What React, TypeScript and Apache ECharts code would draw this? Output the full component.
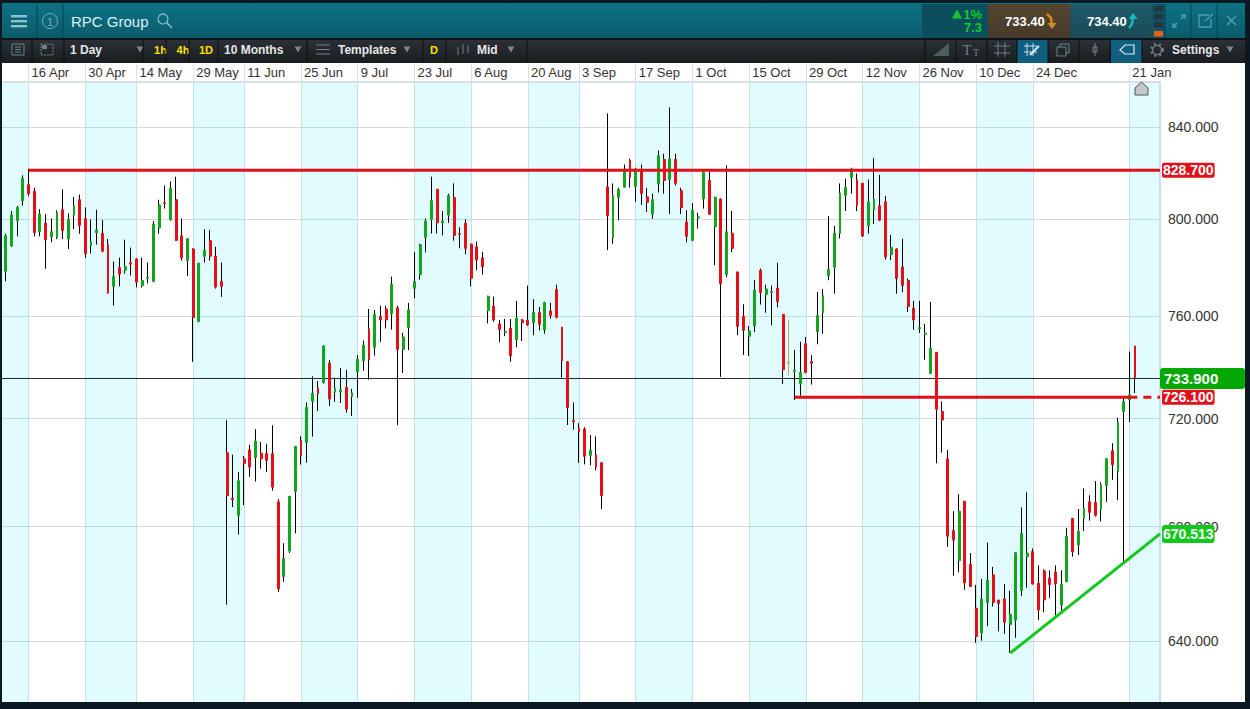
import React, { useEffect, useRef } from "react";
import * as echarts from "echarts";

const FONT = '"Liberation Sans", Arial, sans-serif';

// Ticks of the date axis: position in the candle sequence, and text.
const dateTickIndex = [4, 14, 23, 33, 42, 52, 62, 72, 82, 92, 101, 111, 121, 131, 141, 151, 161, 171, 181, 198];
const dateTickLabels = ["16 Apr", "30 Apr", "14 May", "29 May", "11 Jun", "25 Jun", "9 Jul", "23 Jul", "6 Aug", "20 Aug", "3 Sep", "17 Sep", "1 Oct", "15 Oct", "29 Oct", "12 Nov", "26 Nov", "10 Dec", "24 Dec", "21 Jan"];
const priceTicks = [640, 680, 720, 760, 800, 840];

// open, close, low, high
const ohlc: number[][] = [
  [778.4,793.1,774.3,794],[789,801.9,788.5,803.6],[799.5,805.1,792.9,805.8],[808,817.5,805.9,818.9],[814.9,811,809.9,821.8],
  [812,794.5,792.9,813.5],[794.9,802.3,792.9,804.4],[798.4,791.5,779.4,802.2],[792.7,794.8,790.4,800.4],[792.4,802.9,791.8,803.8],
  [804.1,795.3,791.8,812.8],[791.8,800,787.6,802.6],[801.9,805.8,795.9,809.6],[808.4,797.5,794,810.6],[800.4,785.7,783.8,805.2],
  [789.1,790.7,785.7,800],[794.4,795.6,789.4,804.1],[794.2,786.7,786.2,799.7],[789.4,769.5,769.2,791.8],[772.2,776.2,764.4,782.4],
  [779.9,777.2,772.2,784],[778.8,780.3,777.4,791.5],[781.9,781.3,776.6,788.2],[783.5,773.9,771.8,783.8],[772.5,774.6,771.8,784],
  [775.5,775.9,773.4,782],[774.2,798.1,773.9,799.3],[796.4,806.2,794,808.4],[807.1,806.8,804.6,814.5],[800,813.2,799.5,816.2],
  [808.4,791.2,791.1,818.3],[793.1,783.9,782.8,800.4],[782.9,791.9,776.4,792.2],[787.6,759.6,742,787.9],[758,781.7,757.7,781.9],
  [784.6,787,782,795.9],[791.1,784.6,782.8,795.6],[784.7,771.9,771.3,788.5],[774.2,772.2,767.9,782],[707.1,691.3,652.5,719.4],
  [690.3,689.8,687.1,706.4],[684.1,696.7,677.2,699.9],[704.8,703.2,687.8,705.9],[708.2,701.8,698.2,710.1],[705.3,711.5,696.5,716],
  [707,704.9,701.2,711.2],[706.8,704.3,699.9,710.5],[706.8,694.4,693.1,717.5],[689,658,657,690],[662.3,668.7,660.5,674.1],
  [671.3,691,670.6,691.2],[692.8,709.5,677.6,709.7],[711.8,706.1,702.7,713.3],[711,724.3,703.4,726.2],[726.7,729.7,713.2,736.3],
  [731.8,729.5,722.9,734.5],[734,748.2,733.5,748.5],[741.5,727.5,724.9,742.7],[730.2,731.7,726.5,735.8],[730.2,731,726,739.6],
  [732,723.6,722.3,738.8],[728.4,729.9,721,731.4],[738.1,743,728,744.6],[742.4,748.5,738.5,750.4],[755,742.7,735,763],
  [747.7,760.8,744.4,762.6],[760,758.6,749.8,764.3],[763,758.6,755.2,764.3],[761,772.9,754.7,776.2],[763.4,746.9,717.5,764.3],
  [746.9,751.8,737.6,753.4],[755.6,762.6,746.6,765.4],[771.4,774.2,767.3,786.3],[777,789.4,775,789.8],[792.4,799.3,786.2,800.4],
  [800.1,808,794.1,818.3],[812.9,798.6,794.1,813],[798.6,799.3,793.3,803.6],[801.9,810.2,798.6,811],[809.3,793.3,791.1,815.4],
  [794,793.7,787.9,796.7],[798.4,787.9,785.4,800],[789.7,775.5,772.2,789.8],[788.5,783,778.8,790.7],[783.9,780.2,777,786.4],
  [762.3,768.1,757.2,768.4],[764.2,758.6,757.9,768],[757,754.7,749.7,758.6],[753.6,754,752.1,759],[755.3,744.3,742,759],
  [750.8,759.4,747.7,766.3],[758.6,757.5,750.2,759],[758.4,756.6,756.2,772.5],[757.5,761.6,752.5,767],[761.6,756.8,754.4,763.8],
  [754.7,765.6,753.1,765.9],[762.2,760.4,759.1,765.5],[770.9,759.7,759.2,772.9],[755.7,742.4,735.9,755.8],[742,724.2,717.6,742.3],
  [719.3,718.8,715.8,726.2],[716.3,715,703.4,718.3],[716,705.8,702.8,716.7],[706.1,708.1,702.4,713.8],[706.4,701.8,700.6,713.3],
  [703.4,691.3,686.3,703.7],[813.9,801.6,787.1,846.2],[792.4,810.2,789.8,815.4],[809.4,812.8,799.7,813.5],[813.8,820.7,813.7,823.6],
  [825.4,818.1,813.6,826.1],[814.2,820.7,807.5,822.2],[821.5,811,806.2,823.6],[809.6,807.3,803.2,813.5],[802.3,808.4,800.3,811],
  [815.1,827.5,811.5,829.7],[825.8,816.7,811,828.3],[817.1,826.1,802.3,848.9],[825.8,815.4,814.5,828.3],[812.3,805.1,802.3,813.5],
  [798.9,792.9,790.4,803.9],[791.2,803.9,790.9,807],[800.6,801.1,796.2,802.9],[808.8,820.3,804.6,821.2],[816.7,802.2,801.9,820.7],
  [797,809.4,780.9,809.7],[808.7,773.2,736.1,809],[777,794.8,775.9,823.2],[794.2,787.9,786.3,803.6],[778.1,756,752.5,778.2],
  [760,754.4,744.7,764.9],[752.1,754.2,744.3,756.2],[756.2,770.7,753.8,774.8],[778.7,769.7,764.8,779.5],[768.9,771.1,761.5,772.9],
  [769.7,770.1,756.4,772.5],[771.5,766,763.7,781.9],[760.8,738.9,733.3,760.9],[741.8,741.4,736.5,758.6],[738.3,738.7,727.2,746.7],
  [733.3,737.8,728.8,749.9],[749.1,737.8,737.5,751.8],[742.1,741.4,733.1,744.6],[753.8,760.4,748.9,769.9],[761.5,768.4,753.1,771.1],
  [776.6,779.1,774.7,801.4],[780.1,794.2,769.2,797.3],[794.2,811.3,792,815.4],[810.3,813.6,803.6,817.5],[818,821.2,811,822.2],
  [817,805.9,803.6,819.7],[815.5,793.1,792.6,815.6],[797.4,807.5,794,817.1],[804.1,808.7,798.1,826.5],[805.8,799.7,799.3,819.1],
  [807.5,784.3,783.2,810],[785.3,788.2,783,793.5],[787.6,775.4,769.2,788],[780.2,772.6,769.8,791.9],[774.6,764,761.8,775.4],
  [763.4,758.6,754.7,766.3],[755.1,755.5,753.4,766.3],[752.9,753.3,742.8,757],[737.4,747.2,737.2,765.9],[745.6,723.6,703.2,745.9],
  [722.8,719.5,707.2,726.6],[704.9,676.6,672.8,708.2],[678.6,675.2,662.6,685.6],[667.9,685.6,663.8,691.8],[689.2,660.1,657.7,689.3],
  [666.7,658.8,658.7,670.6],[651.3,641.6,639.5,659.4],[642.8,654.5,640.2,661.5],[653.3,661.1,645.1,674.3],[662.9,653.3,651.9,665.7],
  [654.1,652.9,643.4,654.2],[654.5,646.5,642.5,659.7],[645.7,649.2,636.1,657.3],[647.2,670.7,641.2,670.8],[657.4,677.6,655.6,687],
  [669.3,670.6,658.4,692.5],[671.1,659.7,659.5,672.2],[659.9,650.7,647.2,666.2],[664.3,654.2,649.9,664.8],[661.7,659.5,654.9,664.5],
  [663.9,659.7,648.9,666.2],[652.4,659.7,650.4,664.5],[660.5,676.5,660.4,679.6],[683,671,669.3,683.1],[673.4,678.3,669.9,686.4],
  [683,686.7,678.4,693.9],[689,685.2,682.2,691.4],[688.8,684.1,683.7,696.6],[686.3,695.2,681.9,696.2],[695,704.9,689,705.1],
  [707.9,702.7,697.1,710.7],[700.2,718.6,689.7,720.4],[722.8,726.5,667.4,728],[727.2,729.1,718.7,746],[748.2,735.9,729.8,748.3],
];
const orangeCandle = 138;

// Drawn levels, as placed on the chart, and the text of their flags.
const xStart = -1;
const xEnd = 203.4;
const resistanceLevel = 821.1;
const supportLevel = 728.2;
const lastLevel = 735.46;
const resistanceLabel = "828.700";
const supportLabel = "726.100";
const lastLabel = "733.900";
const trendLabel = "670.513";
const resistanceLine = [[4, resistanceLevel], [xEnd, resistanceLevel]];
const supportLine = [[139, supportLevel], [198, supportLevel]];
const supportDash = [[198, supportLevel], [xEnd, supportLevel]];
const lastLine = [[xStart, lastLevel], [xEnd, lastLevel]];
const trendLine = [[177, 636], [xEnd, 677.4]];

const RED = "#e30f1b";
const GREEN = "#12a51e";
const LINE_GREEN = "#12c81e";
const Z = 100;

function r(x: number, y: number, width: number, height: number, fill: any, extra: any = {}) {
  return { type: "rect", z: Z, silent: true, shape: { x, y, width, height, ...extra }, style: { fill } };
}
function t(text: string, x: number, y: number, fill: string, fontSize = 12, fontWeight: any = "bold", align = "left", fam = FONT) {
  return { type: "text", z: Z + 1, silent: true, style: { text, x, y, fill, fontSize, fontWeight, fontFamily: fam, align, verticalAlign: "middle" } };
}
function l(x1: number, y1: number, x2: number, y2: number, stroke: string, lineWidth = 1) {
  return { type: "line", z: Z + 1, silent: true, shape: { x1, y1, x2, y2 }, style: { stroke, lineWidth } };
}
function tri(cx: number, cy: number, w: number, h: number, fill: string, up = false) {
  const pts = up
    ? [[cx - w / 2, cy + h / 2], [cx + w / 2, cy + h / 2], [cx, cy - h / 2]]
    : [[cx - w / 2, cy - h / 2], [cx + w / 2, cy - h / 2], [cx, cy + h / 2]];
  return { type: "polygon", z: Z + 1, silent: true, shape: { points: pts }, style: { fill } };
}
function grad(a: string, b: string) {
  return new echarts.graphic.LinearGradient(0, 0, 0, 1, [{ offset: 0, color: a }, { offset: 1, color: b }]);
}
function poly(points: number[][], stroke: string, lineWidth = 1) {
  return { type: "polyline", z: Z + 1, silent: true, shape: { points }, style: { fill: "none", stroke, lineWidth } };
}

function chrome(): any[] {
  const DARK = "#0b1a22";
  const ICON = "#6f8287";
  const BTN = "#4f9fae";
  const els: any[] = [
    r(0, 0, 1250, 3, DARK), r(0, 0, 2, 709, DARK), r(1245, 0, 5, 709, DARK), r(0, 702, 1250, 7, DARK),
    { type: "rect", z: 0, z2: 5, silent: true, shape: { x: 1158.5, y: 63, width: 4, height: 18 }, style: { fill: "#ffffff" } },
    r(2, 3, 1243, 36, grad("#0d7385", "#0a5a6a")),
    r(2, 38, 1243, 2, "#0d1418"),
    r(2, 40, 1243, 23, grad("#2a3036", "#191d21")),
    // header left
    r(11, 15, 16, 2.4, "#8fc4cc"), r(11, 20, 16, 2.4, "#8fc4cc"), r(11, 25, 16, 2.4, "#8fc4cc"),
    l(37, 4, 37, 38, "#0a4351"), l(63, 4, 63, 38, "#0a4351"),
    { type: "circle", z: Z + 1, silent: true, shape: { cx: 50, cy: 21, r: 7.5 }, style: { fill: "none", stroke: "#6fb0bb", lineWidth: 1 } },
    t("1", 50, 21.5, "#6fb0bb", 11, "normal", "center"),
    t("RPC Group", 71, 21, "#d9f2f5", 15, "normal"),
    { type: "circle", z: Z + 1, silent: true, shape: { cx: 163, cy: 19, r: 5 }, style: { fill: "none", stroke: "#8fc4cc", lineWidth: 1.2 } },
    l(167, 23, 172, 28, "#8fc4cc", 1.4),
    // header right
    r(922, 4, 66, 34, "#0b4f5e"),
    r(988, 4, 82, 34, grad("#55452f", "#473a2a")),
    r(1070, 4, 82, 34, grad("#1e5a68", "#1b4a56")),
    tri(957, 14, 10, 9, "#16c82a", true),
    t("1%", 982, 14, "#16c82a", 13, "bold", "right"),
    t("7.3", 982, 27, "#16c82a", 13, "bold", "right"),
    t("733.40", 1005, 21, "#ffffff", 13, "bold"),
    t("734.40", 1087, 21, "#ffffff", 13, "bold"),
    poly([[1047, 14], [1051, 18], [1052, 26]], "#d68a1e", 2.5),
    tri(1052, 26, 9, 6, "#d68a1e"),
    poly([[1129, 28], [1132, 24], [1133, 17]], "#19b6c8", 2.5),
    tri(1133, 16, 9, 6, "#19b6c8", true),
    r(1152, 4, 13, 34, "#0e5462"),
    r(1154, 6, 9, 5.5, "#223640"), r(1154, 14, 9, 5.5, "#223640"), r(1154, 22, 9, 5.5, "#223640"), r(1154, 31, 9, 5.5, "#e8600c"),
    l(1165, 4, 1165, 38, "#0a4351"), l(1191, 4, 1191, 38, "#0a4351"), l(1217, 4, 1217, 38, "#0a4351"),
    poly([[1173, 23], [1173, 27], [1177, 27]], BTN, 1.5), l(1173, 27, 1177, 23, BTN, 1.5),
    poly([[1181, 15], [1185, 15], [1185, 19]], BTN, 1.5), l(1185, 15, 1181, 19, BTN, 1.5),
    poly([[1209, 15], [1199, 15], [1199, 27], [1211, 27], [1211, 19]], BTN, 1.3),
    l(1205, 21, 1213, 14, BTN, 1.3),
    l(1227, 16, 1236, 25, BTN, 1.5), l(1236, 16, 1227, 25, BTN, 1.5),
    // toolbar left
    { type: "rect", z: Z + 1, silent: true, shape: { x: 12, y: 44, width: 12, height: 11 }, style: { fill: "none", stroke: ICON } },
    l(15, 47, 21, 47, ICON), l(15, 49.5, 21, 49.5, ICON), l(15, 52, 21, 52, ICON),
    { type: "rect", z: Z + 1, silent: true, shape: { x: 41, y: 44, width: 12, height: 11 }, style: { fill: "none", stroke: ICON, lineDash: [2, 1] } },
    r(42, 45, 5, 4, ICON),
    t("1 Day", 70, 49.5, "#e6e6e6", 12),
    tri(140, 49.5, 7, 6, "#7d8488"),
    t("1h", 160.5, 49.5, "#ffe000", 11, "bold", "center"),
    t("4h", 183, 49.5, "#ffe000", 11, "bold", "center"),
    t("1D", 206, 49.5, "#ffe000", 11, "bold", "center"),
    t("10 Months", 224, 49.5, "#e6e6e6", 12),
    tri(298, 49.5, 7, 6, "#7d8488"),
    l(316, 45, 330, 45, ICON), l(316, 49.5, 330, 49.5, ICON), l(316, 54, 330, 54, ICON),
    t("Templates", 338, 49.5, "#e6e6e6", 12),
    tri(407, 49.5, 7, 6, "#7d8488"),
    t("D", 434, 49.5, "#ffe000", 11, "bold", "center"),
    l(458, 47, 458, 55, ICON), l(463, 44, 463, 54, ICON), l(468, 45, 468, 53, ICON),
    t("Mid", 477, 49.5, "#e6e6e6", 12),
    tri(511, 49.5, 7, 6, "#7d8488"),
    // toolbar right
    { type: "polygon", z: Z + 1, silent: true, shape: { points: [[933, 56], [949, 56], [949, 43]] }, style: { fill: "#4f5a5f" } },
    t("T", 967, 50, ICON, 14, "normal", "center", '"Liberation Serif", serif'),
    t("T", 976, 52, ICON, 10, "normal", "center", '"Liberation Serif", serif'),
    r(1017, 40, 31, 23, "#105f80"),
    r(1111, 40, 31, 23, "#105f80"),
    l(998, 42, 998, 57, ICON), l(1005, 42, 1005, 57, ICON), l(994, 46, 1010, 46, ICON), l(994, 53, 1010, 53, ICON),
    l(1027, 43, 1027, 56, "#c7dde5"), l(1033, 43, 1033, 56, "#c7dde5"), l(1024, 46, 1037, 46, "#c7dde5"), l(1024, 52, 1037, 52, "#c7dde5"),
    l(1030, 55, 1039, 46, "#dbe9ee", 2),
    { type: "rect", z: Z + 1, silent: true, shape: { x: 1057, y: 47, width: 9, height: 9 }, style: { fill: "none", stroke: ICON } },
    poly([[1060, 47], [1060, 44], [1069, 44], [1069, 53], [1066, 53]], ICON),
    l(1095, 43, 1095, 56, ICON), { type: "rect", z: Z + 1, silent: true, shape: { x: 1093, y: 47, width: 4, height: 5 }, style: { fill: "none", stroke: ICON } },
    { type: "polygon", z: Z + 1, silent: true, shape: { points: [[1120, 50], [1125, 45], [1134, 45], [1134, 54], [1125, 54]] }, style: { fill: "none", stroke: "#dbe9ee", lineWidth: 1.2 } },
    { type: "circle", z: Z + 1, silent: true, shape: { cx: 1157, cy: 50, r: 4.5 }, style: { fill: "none", stroke: ICON, lineWidth: 1.2 } },
    { type: "circle", z: Z + 1, silent: true, shape: { cx: 1157, cy: 50, r: 6 }, style: { fill: "none", stroke: ICON, lineWidth: 2, lineDash: [2, 3] } },
    t("Settings", 1172, 49.5, "#e6e6e6", 12),
    tri(1230, 49.5, 7, 6, "#7d8488"),
    // marker under the last date
    { type: "polygon", z: Z + 1, silent: true, shape: { points: [[1135, 88], [1141.5, 82], [1148, 88], [1148, 95], [1135, 95]] }, style: { fill: "#c4c8c8", stroke: "#555", lineWidth: 1 } },
  ];
  const seps = [32, 64, 143, 166, 189, 218, 307, 423, 446, 527, 925, 956, 987, 1017, 1048, 1079, 1110, 1142];
  seps.forEach((x) => els.push(l(x, 40, x, 63, "#0c0f12")));
  return els;
}

function flag(text: string, bg: string, extra: any = {}) {
  return {
    show: true, formatter: text, color: "#fff", fontFamily: FONT, fontSize: 14, fontWeight: "bold",
    backgroundColor: bg, borderRadius: 2, padding: [1, 1, 0, 1], distance: 2, ...extra,
  };
}
function lineSeries(data: number[][], color: string, width: number, z: number, endLabel?: any, type: any = "solid") {
  return {
    type: "line", data, z, showSymbol: false, symbol: "none", silent: true, clip: false,
    lineStyle: { color, width, type }, endLabel, animation: false,
  };
}

export default function App() {
  const ref = useRef<HTMLDivElement>(null);
  useEffect(() => {
    const chart = echarts.init(ref.current!, undefined, { renderer: "svg" });
    const wicks = ohlc.map((row, i) => {
      const value = [i, ...row];
      return i === orangeCandle
        ? { value, itemStyle: { color: "#c9a24c", color0: "#c9a24c", borderColor: "#c9a24c", borderColor0: "#c9a24c" } }
        : value;
    });
    const bodies = ohlc.map(([o, c], i) => {
      const value = [i, o, c, Math.min(o, c), Math.max(o, c)];
      return i === orangeCandle
        ? { value, itemStyle: { color: "#c9a24c", color0: "#c9a24c", borderColor: "#c9a24c", borderColor0: "#c9a24c" } }
        : value;
    });
    chart.setOption({
      animation: false,
      backgroundColor: "#ffffff",
      textStyle: { fontFamily: FONT },
      grid: { left: 0.23, top: 82, width: 1159.77, height: 620, containLabel: false },
      xAxis: {
        type: "value", position: "top", min: xStart, max: xEnd, scale: true,
        axisLine: { show: true, onZero: false, lineStyle: { color: "#d9e0e3", width: 2 } },
        axisTick: { show: true, customValues: [xStart, ...dateTickIndex, xEnd], length: 18, inside: false, lineStyle: { color: "#d5e3e8", width: 1 } },
        axisLabel: {
          show: true, customValues: dateTickIndex, align: "left", margin: 3, fontSize: 13, color: "#333",
          fontFamily: FONT, padding: [0, 0, 0, 3], hideOverlap: false, showMinLabel: true, showMaxLabel: true,
          formatter: (v: number) => dateTickLabels[dateTickIndex.indexOf(v)] ?? "",
        },
        splitLine: { show: true, lineStyle: { color: "#c9dee5", width: 1 } },
        splitArea: { show: true, areaStyle: { color: ["rgba(0,230,250,0.12)", "rgba(255,255,255,0)"] } },
      },
      yAxis: {
        type: "log", position: "right", min: 619.78, max: 860.35, logBase: 10,
        axisLine: { show: true, onZero: false, lineStyle: { color: "#c9dee5", width: 2 } },
        axisTick: { show: false, customValues: priceTicks },
        axisLabel: {
          show: true, customValues: priceTicks, margin: 8, fontSize: 14, color: "#333", fontFamily: FONT,
          formatter: (v: number) => Number(v).toFixed(3),
        },
        splitLine: { show: true, lineStyle: { color: "#d6d9da", width: 1 } },
        splitArea: { show: false },
      },
      tooltip: { show: false },
      series: [
        lineSeries(lastLine, "#2a2a2a", 1, 1, flag(lastLabel, "#04a804", { width: 79, fontSize: 15, padding: [3, 2, 3, 4], borderRadius: 3, distance: 0 })),
        {
          type: "candlestick", data: wicks, barWidth: 1, z: 2, silent: true, clip: false,
          itemStyle: { color: "#000", color0: "#000", borderColor: "#000", borderColor0: "#000", borderWidth: 1 },
        },
        {
          type: "candlestick", data: bodies, barWidth: 2.4, z: 3, silent: true, clip: false,
          itemStyle: { color: GREEN, color0: RED, borderColor: GREEN, borderColor0: RED, borderWidth: 1 },
        },
        lineSeries(resistanceLine, RED, 3, 5, flag(resistanceLabel, RED)),
        lineSeries(supportLine, RED, 3, 5),
        lineSeries(supportDash, RED, 3, 5, flag(supportLabel, RED), [8, 6]),
        lineSeries(trendLine, LINE_GREEN, 3, 5, flag(trendLabel, "#10c81c", { padding: [2, 1, 2, 1], borderRadius: 3 })),
      ],
      graphic: { elements: chrome() },
    });
    return () => chart.dispose();
  }, []);
  return <div ref={ref} style={{ position: "absolute", left: 0, top: 0, width: 1250, height: 709 }} />;
}
